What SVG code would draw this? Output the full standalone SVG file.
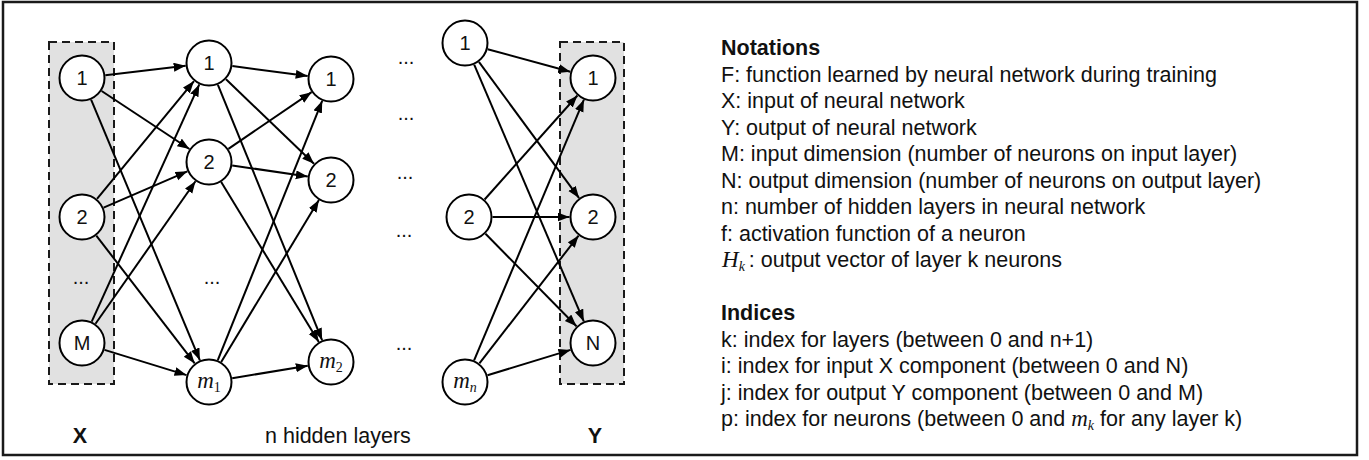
<svg xmlns="http://www.w3.org/2000/svg" width="1369" height="460" viewBox="0 0 1369 460">
<style>
.frame{fill:#fff;stroke:#1a1a1a;stroke-width:2.5}
.box{fill:#e1e1e1;stroke:#1a1a1a;stroke-width:2;stroke-dasharray:8 5}
.node circle{fill:#fff;stroke:#000;stroke-width:2}
.lbl{font-family:"Liberation Sans",Arial,sans-serif;font-size:20px;text-anchor:middle;fill:#111}
.mi{font-family:"Liberation Serif","Times New Roman",serif;font-style:italic}
.sub{font-family:"Liberation Serif","Times New Roman",serif;font-size:14px}
.subi{font-family:"Liberation Serif","Times New Roman",serif;font-size:14px;font-style:italic}
.edges line{stroke:#000;stroke-width:2;marker-end:url(#arr)}
.txt{font-family:"Liberation Sans",Arial,sans-serif;font-size:21.5px;fill:#111}
.bold{font-weight:bold}
.dots{font-family:"Liberation Sans",Arial,sans-serif;font-size:20px;text-anchor:middle;fill:#111}
</style>
<defs>
<marker id="arr" markerUnits="userSpaceOnUse" markerWidth="13" markerHeight="10" refX="12" refY="4.5" orient="auto">
<path d="M0,0 L12,4.5 L0,9 z" fill="#000"/>
</marker>
</defs>
<rect class="frame" x="3" y="2" width="1354" height="453"/>
<rect class="box" x="49" y="42" width="65" height="342"/>
<rect class="box" x="560" y="42" width="64" height="342"/>
<g class="edges" id="connectors">
<line x1="105.3" y1="75.2" x2="185.7" y2="65.8"/>
<line x1="101.6" y1="91.0" x2="189.4" y2="149.0"/>
<line x1="91.1" y1="99.7" x2="199.9" y2="360.3"/>
<line x1="97.0" y1="198.9" x2="194.0" y2="81.1"/>
<line x1="103.6" y1="207.7" x2="187.4" y2="171.3"/>
<line x1="96.3" y1="235.6" x2="194.7" y2="363.4"/>
<line x1="91.7" y1="321.6" x2="199.3" y2="84.4"/>
<line x1="95.5" y1="323.8" x2="195.5" y2="181.2"/>
<line x1="104.5" y1="349.9" x2="186.5" y2="375.1"/>
<line x1="232.3" y1="66.1" x2="307.7" y2="75.9"/>
<line x1="226.0" y1="79.3" x2="314.0" y2="163.7"/>
<line x1="217.9" y1="84.8" x2="322.1" y2="340.2"/>
<line x1="228.4" y1="148.8" x2="311.6" y2="92.2"/>
<line x1="232.2" y1="165.4" x2="307.8" y2="176.6"/>
<line x1="221.2" y1="182.1" x2="318.8" y2="341.9"/>
<line x1="217.8" y1="360.2" x2="322.2" y2="100.8"/>
<line x1="221.2" y1="361.9" x2="318.9" y2="200.1"/>
<line x1="232.2" y1="378.2" x2="307.8" y2="365.8"/>
<line x1="487.7" y1="49.2" x2="570.3" y2="71.8"/>
<line x1="478.9" y1="61.9" x2="579.1" y2="198.1"/>
<line x1="474.2" y1="64.6" x2="583.8" y2="321.4"/>
<line x1="484.6" y1="199.5" x2="577.4" y2="95.5"/>
<line x1="492.5" y1="217" x2="569.5" y2="217"/>
<line x1="485.5" y1="233.8" x2="576.5" y2="326.3"/>
<line x1="474.1" y1="360.3" x2="583.9" y2="99.7"/>
<line x1="479.4" y1="363.4" x2="578.6" y2="235.6"/>
<line x1="487.5" y1="375.2" x2="570.5" y2="349.9"/>
</g>
<g class="node" id="in1"><circle cx="82" cy="78" r="22.5"/><text class="lbl" x="82" y="85">1</text></g>
<g class="node" id="in2"><circle cx="82" cy="217" r="22.5"/><text class="lbl" x="82" y="224">2</text></g>
<g class="node" id="inM"><circle cx="82" cy="343" r="22.5"/><text class="lbl" x="82" y="350">M</text></g>
<g class="node" id="h1_1"><circle cx="209" cy="63" r="22.5"/><text class="lbl" x="209" y="70">1</text></g>
<g class="node" id="h1_2"><circle cx="209" cy="162" r="22.5"/><text class="lbl" x="209" y="169">2</text></g>
<g class="node" id="h1_m"><circle cx="209" cy="382" r="22.5"/><text class="lbl" x="209" y="388"><tspan class="mi" font-size="23">m</tspan><tspan class="sub" dy="4">1</tspan></text></g>
<g class="node" id="h2_1"><circle cx="331" cy="79" r="22.5"/><text class="lbl" x="331" y="86">1</text></g>
<g class="node" id="h2_2"><circle cx="331" cy="180" r="22.5"/><text class="lbl" x="331" y="187">2</text></g>
<g class="node" id="h2_m"><circle cx="331" cy="362" r="22.5"/><text class="lbl" x="331" y="368"><tspan class="mi" font-size="23">m</tspan><tspan class="sub" dy="4">2</tspan></text></g>
<g class="node" id="hn_1"><circle cx="465" cy="43" r="22.5"/><text class="lbl" x="465" y="50">1</text></g>
<g class="node" id="hn_2"><circle cx="469" cy="217" r="22.5"/><text class="lbl" x="469" y="224">2</text></g>
<g class="node" id="hn_m"><circle cx="465" cy="382" r="22.5"/><text class="lbl" x="465" y="388"><tspan class="mi" font-size="23">m</tspan><tspan class="subi" dy="4">n</tspan></text></g>
<g class="node" id="out1"><circle cx="593" cy="78" r="22.5"/><text class="lbl" x="593" y="85">1</text></g>
<g class="node" id="out2"><circle cx="593" cy="217" r="22.5"/><text class="lbl" x="593" y="224">2</text></g>
<g class="node" id="outN"><circle cx="593" cy="343" r="22.5"/><text class="lbl" x="593" y="350">N</text></g>
<g id="ellipses">
<text class="dots" x="81" y="284">...</text>
<text class="dots" x="212" y="284">...</text>
<text class="dots" x="406" y="64">...</text>
<text class="dots" x="406" y="120">...</text>
<text class="dots" x="405" y="179">...</text>
<text class="dots" x="404" y="237">...</text>
<text class="dots" x="404" y="350">...</text>
</g>
<g id="layer-labels">
<text class="txt bold" x="80" y="443" text-anchor="middle">X</text>
<text class="txt" x="265" y="443">n hidden layers</text>
<text class="txt bold" x="595" y="443" text-anchor="middle">Y</text>
</g>
<g id="legend" class="txt">
<text class="bold" x="721" y="55">Notations</text>
<text x="721" y="81.5">F: function learned by neural network during training</text>
<text x="721" y="108">X: input of neural network</text>
<text x="721" y="134.5">Y: output of neural network</text>
<text x="721" y="161">M: input dimension (number of neurons on input layer)</text>
<text x="721" y="187.5">N: output dimension (number of neurons on output layer)</text>
<text x="721" y="214">n: number of hidden layers in neural network</text>
<text x="721" y="240.5">f: activation function of a neuron</text>
<text x="722" y="267"><tspan class="mi" font-size="23">H</tspan><tspan class="subi" dy="4">k</tspan><tspan dy="-4" dx="4">: output vector of layer k neurons</tspan></text>
<text class="bold" x="721" y="320">Indices</text>
<text x="721" y="346.5">k: index for layers (between 0 and n+1)</text>
<text x="721" y="373">i: index for input X component (between 0 and N)</text>
<text x="721" y="399.5">j: index for output Y component (between 0 and M)</text>
<text x="721" y="426">p: index for neurons (between 0 and <tspan class="mi" font-size="23">m</tspan><tspan class="subi" dy="4">k</tspan><tspan dy="-4"> for any layer k)</tspan></text>
</g>
</svg>
